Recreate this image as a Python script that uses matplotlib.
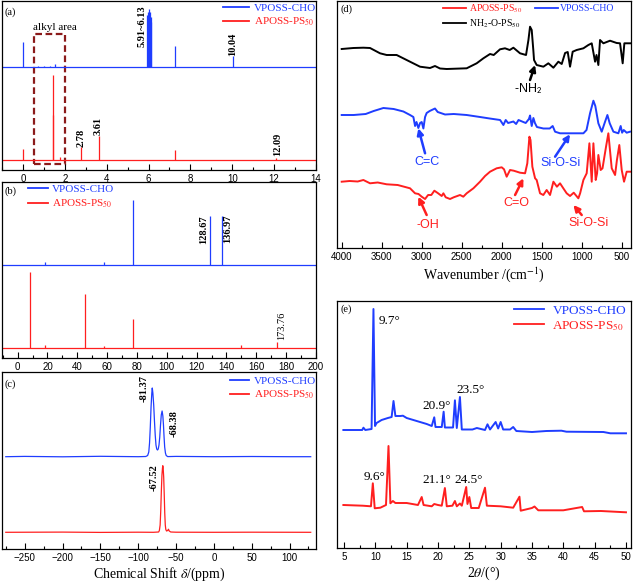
import numpy as np
import matplotlib
matplotlib.use('Agg')
import matplotlib.pyplot as plt
from matplotlib.ticker import MultipleLocator
from matplotlib.lines import Line2D

plt.rcParams['font.family'] = ['Liberation Serif', 'DejaVu Serif']
plt.rcParams['mathtext.fontset'] = 'stix'

BLUE = '#1f3dff'
RED = '#ff1f1f'
BLACK = '#000000'

LBL_V = 'VPOSS-CHO'
LBL_A = 'APOSS-PS$_{50}$'
LBL_N = 'NH$_2$-O-PS$_{50}$'

# ---------------- (a) 1H NMR ----------------
a_blue_base = 103.3
a_blue_ppm = [0.00, 0.70, 1.00, 1.30, 1.55, 5.93, 5.97, 6.02, 6.05, 6.10, 6.13, 7.27, 10.04]
a_blue_int = [24.4, 0.8, 1.0, 0.8, 2.5, 52.0, 55.0, 57.4, 55.0, 50.0, 45.0, 20.7, 10.7]
a_red_base = 9.7
a_red_ppm = [0.00, 1.42, 1.45, 1.75, 2.78, 3.61, 7.27, 12.09]
a_red_int = [11.3, 85.6, 45.0, 3.0, 13.0, 24.3, 10.6, 2.0]

# ---------------- (b) 13C NMR ----------------
b_blue_base = 92.7
b_blue_ppm = [18.5, 58.0, 77.2, 128.67, 136.97]
b_blue_int = [3.0, 3.0, 65.0, 49.3, 48.7]
b_red_base = 9.7
b_red_ppm = [8.2, 18.5, 45.2, 58.0, 77.2, 150.0, 173.76]
b_red_int = [75.7, 3.0, 54.3, 2.0, 28.7, 3.0, 5.7]

# ---------------- (c) 29Si NMR ----------------
c_blue_ppm = [-275, -250, -200, -150, -100, -90, -87.5, -86, -85, -84, -83, -82, -81.4, -80.6,
              -79.5, -78.5, -77.5, -76.5, -75.5, -74.5, -73.5, -72.5, -71.5, -70.5, -69.5,
              -68.4, -67.4, -66.6, -65.8, -65.0, -64.0, -63.0, -61, -50, 0, 50, 100, 128]
c_blue_int = [92.3, 92.6, 92.2, 92.7, 92.3, 92.5, 93.5, 97, 106, 122, 142, 156, 161, 156,
              144, 128, 114, 104, 100, 99, 100, 104, 112, 124, 134,
              138, 133, 124, 112, 102, 96, 93.5, 92.4, 92.6, 92.3, 92.5, 92.3, 92.3]
c_red_ppm = [-275, -200, -150, -100, -80, -73, -72, -71, -70.2, -69.4, -68.6, -67.9, -67.5,
             -67.0, -66.3, -65.6, -64.9, -64.2, -63.5, -62.5, -61, -60, -59, -57, -50, 0, 50, 128]
c_red_int = [16.7, 16.9, 16.6, 16.8, 16.7, 17.0, 18.5, 24, 38, 58, 74, 81, 83.3,
             81, 72, 55, 36, 24, 19.5, 18.0, 18.5, 19.8, 18.0, 17.0, 16.8, 16.7, 16.8, 16.7]

# ---------------- (d) FTIR ----------------
d_black_wn = [4000, 3854, 3729, 3646, 3521, 3438, 3313, 3146, 3021, 2896, 2834, 2771, 2688, 2438,
              2313, 2229, 2146, 2100, 2021, 1959, 1900, 1854, 1771, 1696, 1666, 1646, 1625, 1605,
              1596, 1563, 1479, 1417, 1354, 1292, 1250, 1208, 1175, 1146, 1113, 1063, 979, 917,
              875, 833, 815, 792, 771, 729, 646, 563, 521, 488, 467, 396]
d_black_t = [201, 202, 202.3, 202, 196.7, 195, 195, 188.3, 183.3, 182, 184, 181.5, 181, 181.7,
             186.7, 191.7, 196, 195, 200.7, 201.7, 200, 202.3, 196.7, 195, 210, 223.3, 220, 200,
             190, 185, 183.3, 186.7, 182.3, 188.3, 186, 197, 198, 183.3, 198.3, 200, 201.7, 205,
             206.7, 188.3, 195, 185, 210, 206.7, 209.3, 207, 206.7, 186.7, 206.7, 206.7]
d_blue_wn = [4000, 3850, 3700, 3600, 3479, 3350, 3229, 3146, 3104, 3083, 3065, 3042, 3020, 3000,
             2979, 2958, 2938, 2900, 2834, 2800, 2708, 2600, 2438, 2271, 2150, 2020, 1979, 1950,
             1920, 1854, 1820, 1790, 1700, 1660, 1646, 1625, 1604, 1585, 1560, 1479, 1400, 1363,
             1333, 1271, 1146, 979, 940, 896, 854, 830, 792, 750, 715, 679, 650, 604, 542, 513,
             495, 475, 438, 396]
d_blue_t = [135, 135, 136, 139, 142, 141, 138.5, 135, 133, 124, 128, 122, 127, 128,
            121.5, 133, 137, 139, 141.5, 138, 135.5, 136, 135, 133, 131.5, 130, 125, 130,
            127, 128.5, 126, 130, 127, 131, 134.5, 124, 132, 127, 123, 121.5, 121.5, 124,
            118.3, 116.7, 116.7, 116.7, 120, 136.7, 149.3, 144, 126.7, 118.3, 126.7, 135, 126.7,
            118.3, 116.7, 124, 117.3, 120, 117.3, 118.3]
d_red_wn = [4000, 3900, 3800, 3729, 3646, 3550, 3438, 3300, 3146, 3083, 3040, 3000, 2958, 2920,
            2880, 2842, 2800, 2750, 2729, 2700, 2646, 2600, 2521, 2480, 2438, 2354, 2271, 2208,
            2146, 2063, 2000, 1971, 1938, 1896, 1850, 1771, 1708, 1680, 1654, 1640, 1617, 1583,
            1563, 1521, 1480, 1438, 1396, 1354, 1310, 1271, 1230, 1188, 1146, 1100, 1042, 1020,
            979, 938, 904, 875, 854, 825, 808, 792, 763, 740, 696, 667, 625, 583, 560, 530, 500,
            471, 438, 396]
d_red_t = [68.3, 69, 68.5, 70, 66.7, 67.5, 65.7, 65, 61.7, 56.7, 56, 53.3, 51, 55,
           55, 59.3, 57, 54, 56.7, 52.7, 51, 52.7, 55, 53.3, 56.7, 61.7, 68.3, 74,
           78.3, 81.7, 82.7, 80.7, 73.3, 80, 79.3, 77.3, 76.7, 86.7, 113.3, 110, 83.3, 71.7,
           70, 56.7, 55, 60, 55, 68.3, 63.3, 66.7, 61.7, 56.7, 54, 57.3, 51.7, 56.7,
           70, 76.7, 106.7, 68.3, 106.7, 70, 76.7, 95, 80, 81.7, 103.3, 116.7, 81.7, 75, 90, 105, 80,
           68.3, 78.3, 78.3]

# ---------------- (e) XRD ----------------
e_blue_2t = [4.9, 7.9, 8.1, 8.4, 9.4, 9.7, 9.95, 10.2, 11.0, 12.0, 12.6, 12.9, 13.2, 14.0, 14.4,
             15.0, 16.6, 18.2, 19.0, 19.4, 19.6, 20.6, 20.9, 21.1, 22.4, 22.7, 23.0, 23.5, 23.8,
             25.5, 26.2, 27.5, 27.9, 28.3, 29.2, 29.6, 30.0, 30.4, 31.5, 32.0, 32.5, 35.0, 37.3,
             39.7, 40.5, 46.4, 47.5, 50.0]
e_blue_i = [118, 118, 120.3, 118, 119, 239, 122, 125, 128, 130, 131, 147, 132, 132, 132.3,
            130, 127, 124, 122, 130.7, 121, 121, 136.3, 120.5, 120.5, 147.7, 120, 151, 118.5,
            118.5, 120, 118, 123.7, 118.5, 126, 119.5, 126, 118.5, 118.5, 121, 117, 116, 117,
            117.3, 116.3, 116, 114.7, 114.7]
e_red_2t = [4.9, 8.0, 9.3, 9.6, 9.9, 10.8, 11.7, 12.1, 12.4, 12.8, 13.2, 15.0, 16.8, 17.4, 17.7,
            19.0, 19.4, 20.0, 20.6, 21.1, 21.4, 22.3, 22.7, 23.0, 23.5, 23.8, 24.5, 24.7, 25.0,
            25.3, 26.5, 27.5, 27.8, 30.0, 32.0, 33.0, 33.2, 35.0, 35.4, 36.0, 40.0, 43.0, 43.3,
            46.0, 50.0]
e_red_i = [43, 42.3, 41.7, 64.7, 39.7, 40.3, 43, 102, 44.7, 47, 45, 45, 43, 51, 43,
           41.7, 44, 43, 42.3, 60, 41.7, 42.3, 47, 41.7, 44.5, 42.3, 61, 44, 51,
           40, 40, 60.3, 42.3, 41.7, 40.3, 51.3, 37.3, 40, 41.5, 37.7, 37.7, 41, 36.7,
           37, 35.7]

# ============ figure ============
fig = plt.figure(figsize=(6.34, 5.84), dpi=100)


def box(l, t, r, b):
    return fig.add_axes([l / 634, 1 - b / 584, (r - l) / 634, (b - t) / 584])


axa = box(2, 1, 316, 170)
axb = box(2, 182, 316, 357.7)
axc = box(2, 372, 316, 549)
axd = box(337.3, 1, 631, 248)
axe = box(337.3, 301, 631, 548)


def style(ax, major, minor):
    ax.set_yticks([])
    ax.xaxis.set_major_locator(MultipleLocator(major))
    ax.xaxis.set_minor_locator(MultipleLocator(minor))
    ax.tick_params(axis='x', which='both', direction='in', top=False)
    ax.tick_params(axis='x', which='major', length=4, width=0.8, labelsize=7, pad=3,
                   labelfontfamily='Liberation Sans')
    ax.tick_params(axis='x', which='minor', length=2, width=0.8)
    for s in ax.spines.values():
        s.set_linewidth(0.9)


def legend(ax, items, loc, anchor, fs, hl, hp, ls, ncol=1, cs=1.0):
    handles = [Line2D([], [], color=c, lw=1.3) for c, _ in items]
    labels = [t for _, t in items]
    ax.legend(handles, labels, loc=loc, bbox_to_anchor=anchor, frameon=False, fontsize=fs,
              handlelength=hl, handletextpad=hp, labelspacing=ls, ncol=ncol, columnspacing=cs,
              borderpad=0, borderaxespad=0, labelcolor='linecolor')


LW = 0.9

# ---- (a)
ax = axa
xmin, xmax = -1, 14
ax.plot([xmin + 0.05, xmax - 0.05], [a_blue_base] * 2, color=BLUE, lw=LW)
ax.vlines(a_blue_ppm, a_blue_base, a_blue_base + np.array(a_blue_int), color=BLUE, lw=LW)
ax.plot([xmin + 0.05, xmax - 0.05], [a_red_base] * 2, color=RED, lw=LW)
ax.vlines(a_red_ppm, a_red_base, a_red_base + np.array(a_red_int), color=RED, lw=LW)
ax.set_xlim(xmin, xmax)
ax.set_ylim(0, 169)
style(ax, 2, 1)
ax.add_patch(plt.Rectangle((0.55, 6), 1.45, 129.7, fill=False, ls=(0, (3, 1.6)), lw=1.6,
                           edgecolor='#8b1a1a'))
ax.text(0.47, 142.7, 'alkyl area', fontsize=8, va='center', ha='left')
ax.text(5.68, 143.5, '5.91~6.13', rotation=90, fontsize=7.5, fontweight='bold', ha='center', va='center')
ax.text(10.04, 113.5, '10.04', rotation=90, fontsize=7.5, fontweight='bold', ha='center', va='bottom')
ax.text(2.78, 23.3, '2.78', rotation=90, fontsize=7.5, fontweight='bold', ha='center', va='bottom')
ax.text(3.61, 34.5, '3.61', rotation=90, fontsize=7.5, fontweight='bold', ha='center', va='bottom')
ax.text(12.15, 14.0, '12.09', rotation=90, fontsize=7.5, fontweight='bold', ha='center', va='bottom')
ax.text(0.008, 0.965, '(a)', transform=ax.transAxes, fontsize=7.5, va='top')
legend(ax, [(BLUE, LBL_V), (RED, LBL_A)], 'upper right', (1.0, 0.985), 8, 2.3, 0.45, 0.2)

# ---- (b)
ax = axb
xmin, xmax = -10.5, 200
ax.plot([xmin + 1, xmax - 1], [b_blue_base] * 2, color=BLUE, lw=LW)
ax.vlines(b_blue_ppm, b_blue_base, b_blue_base + np.array(b_blue_int), color=BLUE, lw=LW)
ax.plot([xmin + 1, xmax - 1], [b_red_base] * 2, color=RED, lw=LW)
ax.vlines(b_red_ppm, b_red_base, b_red_base + np.array(b_red_int), color=RED, lw=LW)
ax.set_xlim(xmin, xmax)
ax.set_ylim(0, 175.7)
style(ax, 20, 10)
ax.text(125.0, 128.5, '128.67', rotation=90, fontsize=7.5, fontweight='bold', ha='center', va='center')
ax.text(140.5, 129.4, '136.97', rotation=90, fontsize=7.5, fontweight='bold', ha='center', va='center')
ax.text(177.0, 31.9, '173.76', rotation=90, fontsize=7.5, ha='center', va='center')
ax.text(0.008, 0.975, '(b)', transform=ax.transAxes, fontsize=7.5, va='top')
legend(ax, [(BLUE, LBL_V), (RED, LBL_A)], 'upper left', (0.083, 0.99), 8, 1.8, 0.35, 0.35)

# ---- (c)
ax = axc
ax.plot(c_blue_ppm, c_blue_int, color=BLUE, lw=LW)
ax.plot(c_red_ppm, c_red_int, color=RED, lw=LW)
ax.set_xlim(-280, 135)
ax.set_ylim(0, 177)
style(ax, 50, 25)
ax.text(-92, 160.5, '-81.37', rotation=90, fontsize=7.5, fontweight='bold', ha='center', va='center')
ax.text(-52.6, 125, '-68.38', rotation=90, fontsize=7.5, fontweight='bold', ha='center', va='center')
ax.text(-79, 71.5, '-67.52', rotation=90, fontsize=7.5, fontweight='bold', ha='center', va='center')
ax.text(0.008, 0.96, '(c)', transform=ax.transAxes, fontsize=7.5, va='top')
legend(ax, [(BLUE, LBL_V), (RED, LBL_A)], 'upper right', (1.0, 0.975), 8, 1.7, 0.45, 0.2)
ax.set_xlabel('Chemical Shift $\\delta$/(ppm)', fontsize=10, labelpad=2)

# ---- (d)
ax = axd
ax.plot(d_black_wn, d_black_t, color=BLACK, lw=1.4)
ax.plot(d_blue_wn, d_blue_t, color=BLUE, lw=1.4)
ax.plot(d_red_wn, d_red_t, color=RED, lw=1.4)
ax.set_xlim(4055, 384)
ax.set_ylim(2, 249)
style(ax, 500, 250)
ax.set_xlabel('Wavenumber /(cm$^{-1}$)', fontsize=10, labelpad=2)
ax.text(0.01, 0.985, '(d)', transform=ax.transAxes, fontsize=7.5, va='top')
legend(ax, [(RED, LBL_A), (BLACK, LBL_N), (BLUE, LBL_V)], 'upper left', (0.36, 0.995), 7,
       2.4, 0.25, 0.3, ncol=2, cs=1.3)

notes = [
    ('-NH$_\\mathsf{2}$', BLACK, (1667, 161.7), (1646, 170), (1583, 185)),
    ('C=C', BLUE, (2938, 88.3), (2958, 96.7), (3042, 121.7)),
    ('Si-O-Si', BLUE, (1271, 86.7), (1333, 93.3), (1146, 115.7)),
    ('-OH', RED, (2917, 25), (2938, 35), (3042, 53.3)),
    ('C=O', RED, (1813, 46.7), (1833, 55), (1729, 71.7)),
    ('Si-O-Si', RED, (917, 26.7), (1000, 35), (1104, 45)),
]
for txt, col, tpos, tail, head in notes:
    ax.text(tpos[0], tpos[1], txt, color=col, fontsize=9, family='Liberation Sans',
            ha='center', va='center')
    ax.annotate('', xy=head, xytext=tail,
                arrowprops=dict(arrowstyle='-|>', color=col, lw=1.8, mutation_scale=9,
                                shrinkA=0, shrinkB=0))

# ---- (e)
ax = axe
ax.plot(e_blue_2t, e_blue_i, color=BLUE, lw=1.4)
ax.plot(e_red_2t, e_red_i, color=RED, lw=1.4)
ax.set_xlim(3.93, 50.8)
ax.set_ylim(0, 247)
style(ax, 5, 2.5)
ax.set_xlabel('2$\\theta$/(°)', fontsize=10, labelpad=2)
ax.text(0.01, 0.985, '(e)', transform=ax.transAxes, fontsize=7.5, va='top')
for txt, x, y in [('9.7°', 10.5, 227), ('20.9°', 17.55, 142), ('23.5°', 23.0, 158),
                  ('9.6°', 8.1, 71.3), ('21.1°', 17.55, 68), ('24.5°', 22.7, 68)]:
    ax.text(x, y, txt, fontsize=9.5, ha='left', va='center')
legend(ax, [(BLUE, LBL_V), (RED, LBL_A)], 'upper right', (0.983, 0.985), 9.5, 2.3, 0.6, 0.15)

fig.savefig('out.png', dpi=100)
